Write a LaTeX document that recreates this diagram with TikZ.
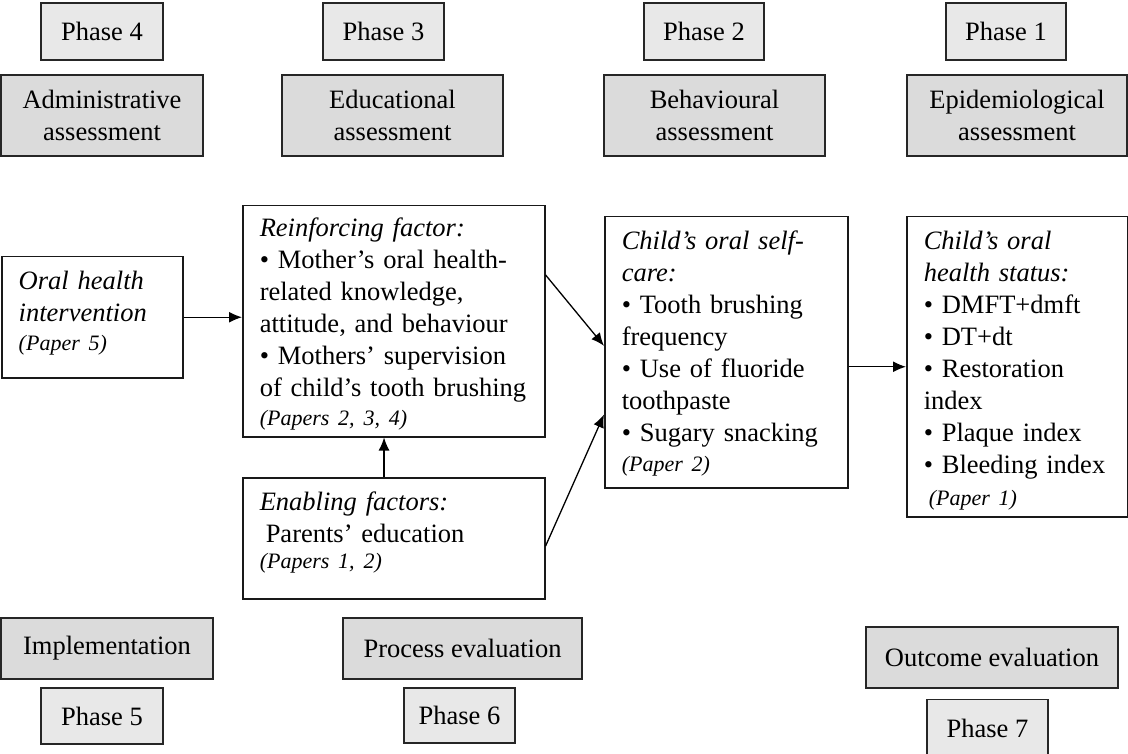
\documentclass[tikz,border=0pt]{standalone}
\usepackage{fontspec}
\setmainfont{Liberation Serif}
\usetikzlibrary{arrows.meta}
\newcommand{\paperref}[1]{{\fontsize{22}{26}\selectfont\itshape #1}}

\begin{document}
\begin{tikzpicture}[x=1pt,y=-1pt,font=\fontsize{26.5}{32}\selectfont]
  \tikzstyle{phase}=[draw=black!85,line width=1.6pt,fill=black!9,rectangle,inner sep=0pt,minimum height=57pt];
  \tikzstyle{stage}=[draw=black!85,line width=1.6pt,fill=black!14,rectangle,inner sep=0pt,align=center];
  \tikzstyle{factor}=[draw=black!90,line width=1.5pt,fill=white,rectangle,anchor=north west,align=left,inner xsep=17pt,inner ysep=0pt,text height=33pt];
  \tikzstyle{flow}=[-{Latex[length=13pt,width=11pt]},line width=1.3pt];

  \useasboundingbox (0,0) rectangle (1128,754);

  % top : phases 4 to 1
  \node[phase,minimum width=122pt] (ph4) at (102,31.5) {Phase 4};
  \node[phase,minimum width=121pt] (ph3) at (383.5,31.5) {Phase 3};
  \node[phase,minimum width=120pt] (ph2) at (704,31.5) {Phase 2};
  \node[phase,minimum width=120pt] (ph1) at (1006,31.5) {Phase 1};

  \node[stage,minimum width=202pt,minimum height=81pt] (admin) at (102,115.5) {Administrative\\assessment};
  \node[stage,minimum width=221pt,minimum height=81pt] (edu) at (392.5,115.5) {Educational\\assessment};
  \node[stage,minimum width=221pt,minimum height=81pt] (behav) at (714.5,115.5) {Behavioural\\assessment};
  \node[stage,minimum width=220pt,minimum height=81pt] (epid) at (1017,115.5) {Epidemiological\\assessment};

  % middle : the model
  \node[factor,text width=147pt,text depth=88pt] (interv) at (1,256)
    {\textit{Oral health}\\\textit{intervention}\\[-3pt]\paperref{(Paper 5)}};
  \node[factor,text width=268pt,text height=31pt,text depth=200pt] (reinf) at (242,205)
    {\textit{Reinforcing factor:}\\
     \textbullet\ Mother's oral health-\\
     related knowledge,\\
     attitude, and behaviour\\
     \textbullet\ Mothers' supervision\\
     of child's tooth brushing\\[-3pt]
     \paperref{(Papers 2, 3, 4)}};
  \node[factor,text width=268pt,text depth=88pt] (enab) at (242,477)
    {\textit{Enabling factors:}\\
     \hspace{6pt}Parents' education\\[-6pt]
     \paperref{(Papers 1, 2)}};
  \node[factor,text width=209pt,text depth=238pt] (self) at (604,216)
    {\textit{Child's oral self-}\\
     \textit{care:}\\
     \textbullet\ Tooth brushing\\
     frequency\\
     \textbullet\ Use of fluoride\\
     toothpaste\\
     \textbullet\ Sugary snacking\\[-2pt]
     \paperref{(Paper 2)}};
  \node[factor,text width=187pt,text depth=267pt] (status) at (906,216)
    {\textit{Child's oral}\\
     \textit{health status:}\\
     \textbullet\ DMFT+dmft\\
     \textbullet\ DT+dt\\
     \textbullet\ Restoration\\
     index\\
     \textbullet\ Plaque index\\
     \textbullet\ Bleeding index\\
     \hspace{5pt}\paperref{(Paper 1)}};

  % bottom : phases 5 to 7
  \node[stage,minimum width=212pt,minimum height=61pt] (impl) at (107,648.5) {Implementation};
  \node[phase,minimum width=122pt,minimum height=56pt] (ph5) at (102,716) {Phase 5};
  \node[stage,minimum width=239pt,minimum height=61pt] (proc) at (462.5,648.5) {Process evaluation};
  \node[phase,minimum width=111pt,minimum height=55pt] (ph6) at (459.5,715.5) {Phase 6};
  \node[stage,minimum width=252pt,minimum height=61pt] (outc) at (992,657.5) {Outcome evaluation};
  \node[phase,minimum width=121pt,minimum height=58pt] (ph7) at (987.5,728.5) {Phase 7};

  % interv => reinf
  \draw[flow] (interv.east) -- (interv.east -| reinf.west);

  % reinf => self
  \draw[flow] (reinf.17.5) -- (self.177);

  % enab => reinf
  \draw[flow] (enab.99.4) -- (enab.99.4 |- reinf.south);

  % enab => self
  \draw[flow] (enab.-3.6) -- (self.207.6);

  % self => status
  \draw[flow] (status.west -| self.east) -- (status.west);

\end{tikzpicture}
\end{document}
